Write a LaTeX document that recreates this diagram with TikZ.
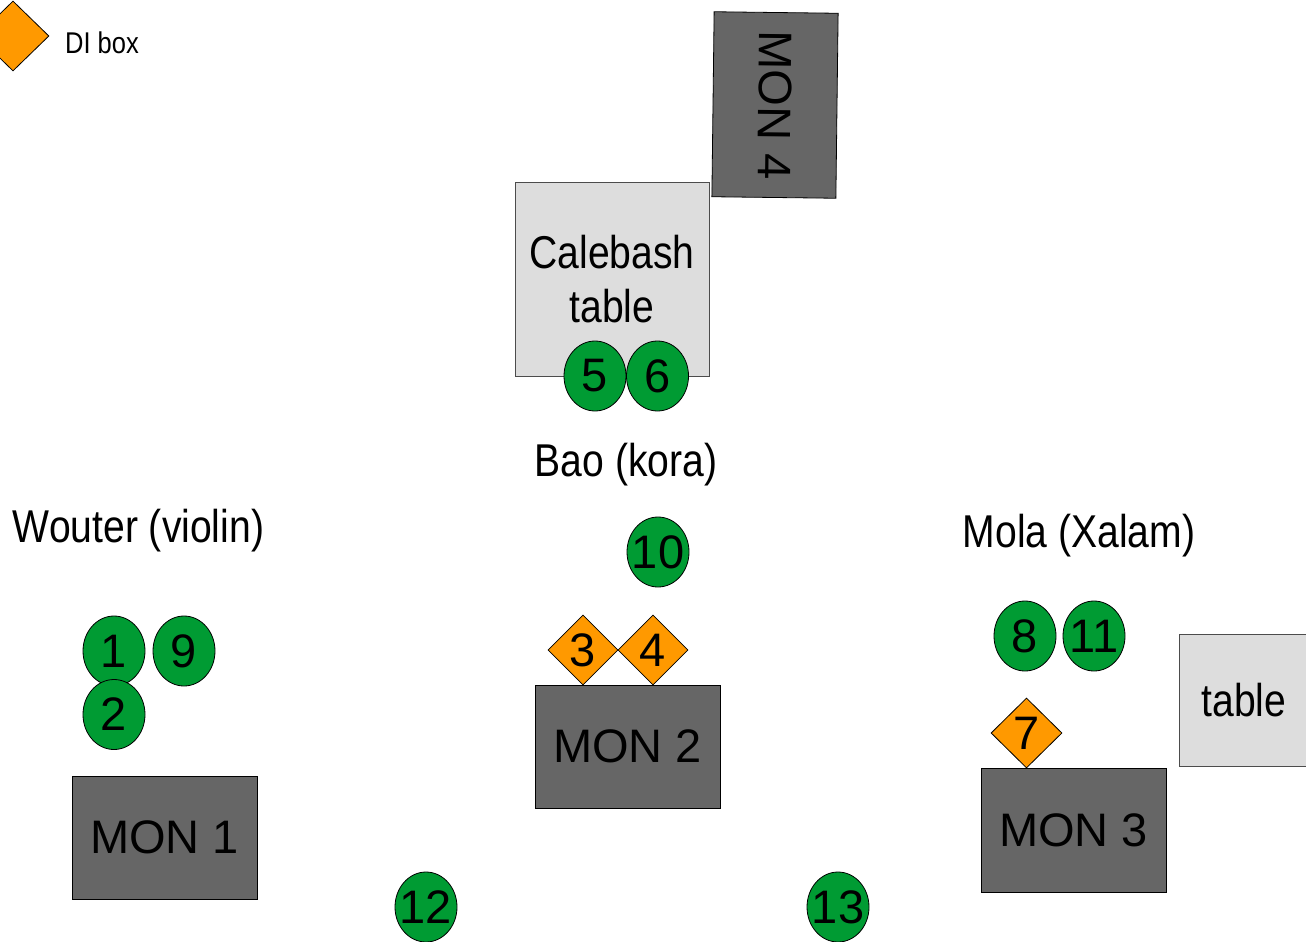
\documentclass[tikz,border=0pt]{standalone}
\usepackage{fontspec}
\setmainfont{Liberation Sans}
\newfontfamily\narrowfont[FakeStretch=0.85]{Liberation Sans}
\usetikzlibrary{shapes.geometric}
\definecolor{micgreen}{HTML}{009B33}
\definecolor{diorange}{HTML}{FF9900}
\definecolor{mongray}{HTML}{666666}
\definecolor{tablegray}{HTML}{DDDDDD}
\newcommand{\nowidth}[1]{\makebox[0pt]{#1}}
\tikzset{
  mic/.style={ellipse, draw=black, line width=0.8pt, fill=micgreen, minimum width=62pt, minimum height=70pt, inner sep=0pt, font=\fontsize{47}{54}\selectfont},
  dibox/.style={diamond, draw=black, line width=0.8pt, fill=diorange, minimum width=70pt, minimum height=70pt, inner sep=0pt, font=\fontsize{47}{54}\selectfont},
  monbox/.style={rectangle, draw=black, line width=0.8pt, fill=mongray, inner sep=0pt, font=\fontsize{47}{54}\selectfont},
  tablebox/.style={rectangle, draw=black!70, line width=0.8pt, fill=tablegray, inner sep=0pt, align=center, font=\narrowfont\fontsize{46}{54}\selectfont},
  lbl/.style={anchor=base, inner sep=0pt, font=\narrowfont\fontsize{46}{54}\selectfont}
}
\begin{document}
\begin{tikzpicture}[x=1pt,y=-1pt]
\useasboundingbox (0,0) rectangle (1306,942);
% legend
\node[dibox, minimum width=72pt] (legend) at (13,36) {};
\node[anchor=base, inner sep=0pt, font=\narrowfont\fontsize{30}{36}\selectfont] (legendtxt) at (102,53) {DI box};
% MON 4 (slightly rotated)
\node[monbox, rotate=-90.7, minimum width=185pt, minimum height=124pt] (mon4) at (775,105) {MON 4};
% Calebash table
\node[tablebox, minimum width=194pt, minimum height=194pt] (calebash) at (612,279) {Calebash\\table};
\node[mic] (m5) at (595,376) {\nowidth{5}};
\node[mic] (m6) at (657.5,376) {\nowidth{6}};
\node[lbl] (bao) at (626,476) {Bao (kora)};
\node[mic] (m10) at (658,552) {\nowidth{10}};
\node[dibox] (d3) at (583,650) {3};
\node[dibox] (d4) at (653,650) {4};
\node[monbox, minimum width=185pt, minimum height=123pt] (mon2) at (627.5,746.5) {MON 2};
% Wouter
\node[lbl] (wouter) at (138.5,542) {Wouter (violin)};
\node[mic] (m1) at (114,651) {\nowidth{1}};
\node[mic] (m9) at (184,651) {\nowidth{9}};
\node[mic] (m2) at (114,714.5) {\nowidth{2}};
\node[monbox, minimum width=185pt, minimum height=123pt] (mon1) at (164.5,837.5) {MON 1};
% Mola
\node[lbl] (mola) at (1079,547) {Mola (Xalam)};
\node[mic] (m8) at (1025,636) {\nowidth{8}};
\node[mic] (m11) at (1094,636) {\nowidth{11}};
\node[dibox, minimum width=71pt] (d7) at (1026.5,733) {7};
\node[monbox, minimum width=185pt, minimum height=124pt] (mon3) at (1073.5,830) {MON 3};
\node[tablebox, minimum width=130pt, minimum height=132pt] (table) at (1244,700) {table};
% front mics
\node[mic] (m12) at (426,907) {\nowidth{12}};
\node[mic] (m13) at (838,907) {\nowidth{13}};
\end{tikzpicture}
\end{document}
